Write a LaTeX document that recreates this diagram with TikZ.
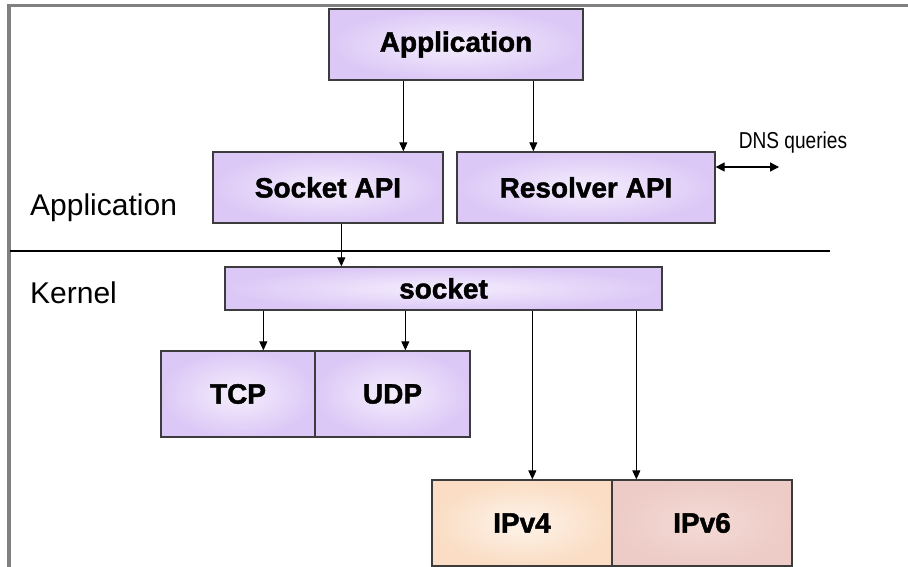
\documentclass[tikz,border=0pt]{standalone}
\usepackage{fontspec}
\setmainfont{Liberation Sans}
\newfontfamily\heavyfont[FakeBold=1.6]{Liberation Sans Bold}
\usetikzlibrary{arrows.meta}

\definecolor{lavout}{HTML}{DCC8F6}
\definecolor{lavin}{HTML}{F5EEFD}
\definecolor{peachout}{HTML}{FADDC4}
\definecolor{peachin}{HTML}{FEF3EA}
\definecolor{roseout}{HTML}{EDCBC6}
\definecolor{rosein}{HTML}{F4DAD6}
\definecolor{framegray}{HTML}{808080}
\definecolor{edgegray}{HTML}{3C3C3C}

\tikzset{
  layerbox/.style={draw=edgegray, line width=1.3pt, inner sep=0pt,
    font=\heavyfont\fontsize{28}{28}\selectfont, text=black},
  purplebox/.style={layerbox, inner color=lavin, outer color=lavout},
  peachbox/.style={layerbox, inner color=peachin, outer color=peachout},
  rosebox/.style={layerbox, inner color=rosein, outer color=roseout},
  arr/.style={line width=1pt, -{Triangle[length=9pt,width=8pt]}},
  dnsarr/.style={line width=1.3pt, {Triangle[length=9pt,width=9pt]}-{Triangle[length=9pt,width=9pt]}},
  sidelabel/.style={anchor=base west, inner sep=0pt, font=\fontsize{30}{30}\selectfont}
}

\begin{document}
\begin{tikzpicture}[x=1pt, y=-1pt]
\useasboundingbox (0,0) rectangle (908,567);

% outer frame (top and left edges)
\fill[framegray] (7,4) rectangle (908,7);
\fill[framegray] (7,4) rectangle (11,567);

% user-space / kernel separator
\draw[line width=2pt] (10,251) -- (830,251);
\node[sidelabel] (lapp) at (30,215) {Application};
\node[sidelabel] (lkern) at (30,303) {Kernel};

% boxes
\node[purplebox, minimum width=254pt, minimum height=71pt] (app) at (456,44.5) {Application};
\node[purplebox, minimum width=230pt, minimum height=71pt] (sapi) at (328,187.5) {Socket API};
\node[purplebox, minimum width=258pt, minimum height=71pt] (rapi) at (586,187.5) {Resolver API};
\node[purplebox, minimum width=437pt, minimum height=43pt] (sock) at (443.5,288.5) {socket};
\node[purplebox, minimum width=154pt, minimum height=86pt] (tcp) at (238,394) {TCP};
\node[purplebox, minimum width=155pt, minimum height=86pt] (udp) at (392.5,394) {UDP};
\node[peachbox, minimum width=180pt, minimum height=86pt] (ipv4) at (522,523) {IPv4};
\node[rosebox, minimum width=180pt, minimum height=86pt] (ipv6) at (702,523) {IPv6};

% connectors
\draw[arr] ([xshift=75pt]app.south west) -- ([xshift=191pt]sapi.north west);
\draw[arr] ([xshift=205pt]app.south west) -- ([xshift=77pt]rapi.north west);
\draw[arr] ([xshift=129pt]sapi.south west) -- ([xshift=117pt]sock.north west);
\draw[arr] ([xshift=39pt]sock.south west) -- ([xshift=103pt]tcp.north west);
\draw[arr] ([xshift=181pt]sock.south west) -- ([xshift=91pt]udp.north west);
\draw[arr] ([xshift=308pt]sock.south west) -- ([xshift=101pt]ipv4.north west);
\draw[arr] ([xshift=412pt]sock.south west) -- ([xshift=25pt]ipv6.north west);

% DNS traffic
\coordinate (dnsend) at (779,167);
\draw[dnsarr] ([yshift=20.5pt]rapi.east) -- (dnsend);
\node[font=\fontsize{23}{23}\selectfont, xscale=0.83, inner sep=0pt] (dns) at (793,143) {DNS queries};
\end{tikzpicture}
\end{document}
